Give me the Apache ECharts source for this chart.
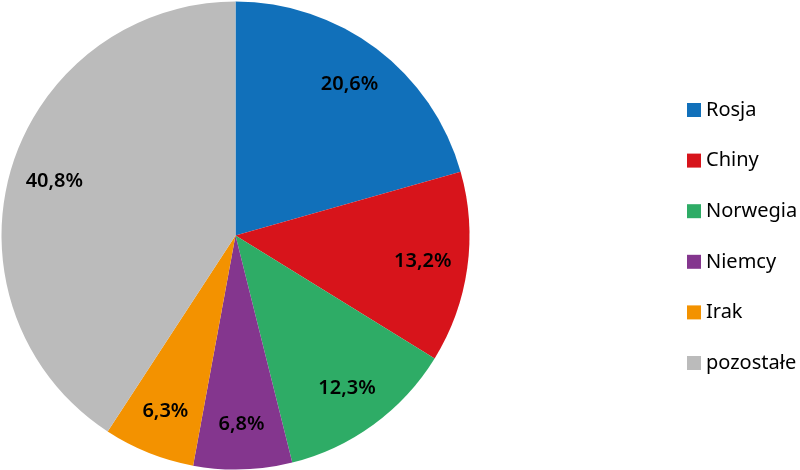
<!DOCTYPE html>
<html><head><meta charset="utf-8">
<script src="https://cdn.jsdelivr.net/npm/echarts@6/dist/echarts.min.js"></script>
<style>html,body{margin:0;padding:0;background:#fff}#c{width:800px;height:470px}</style>
</head><body><div id="c"></div>
<script>
const categories = ['Rosja','Chiny','Norwegia','Niemcy','Irak','pozostałe'];
const values = [20.6, 13.2, 12.3, 6.8, 6.3, 40.8];
const labels = ['20,6%','13,2%','12,3%','6,8%','6,3%','40,8%'];
const colors = ['#1170BA','#D7141B','#2EAC66','#84368E','#F39200','#BBBBBB'];

const chart = echarts.init(document.getElementById('c'));
const mainData = categories.map((n,i)=>({name:n, value:values[i], itemStyle:{color:colors[i]}}));
const labelData = categories.map((n,i)=>({name:n, value:values[i], label:{formatter:labels[i]}}));
chart.setOption({
  animation:false,
  legend:{
    orient:'vertical', left:682, top:95,
    itemWidth:14, itemHeight:14, itemGap:30.6,
    icon:'rect',
    data:categories,
    textStyle:{fontFamily:'Noto Sans', fontSize:20, color:'#000', lineHeight:20}
  },
  series:[
    {type:'pie', center:[235.5,235.5], radius:[0,234], startAngle:90, clockwise:true,
     label:{show:false}, labelLine:{show:false}, emphasis:{disabled:true}, silent:true,
     data:mainData},
    {type:'pie', center:[235.5,235.5], radius:[138,234], startAngle:90, clockwise:true,
     itemStyle:{color:'rgba(0,0,0,0)'}, legendHoverLink:false, silent:true, emphasis:{disabled:true},
     label:{show:true, position:'inside', fontFamily:'Noto Sans', fontSize:20, fontWeight:600, color:'#000'},
     labelLine:{show:false},
     data:labelData}
  ]
});
</script></body></html>
